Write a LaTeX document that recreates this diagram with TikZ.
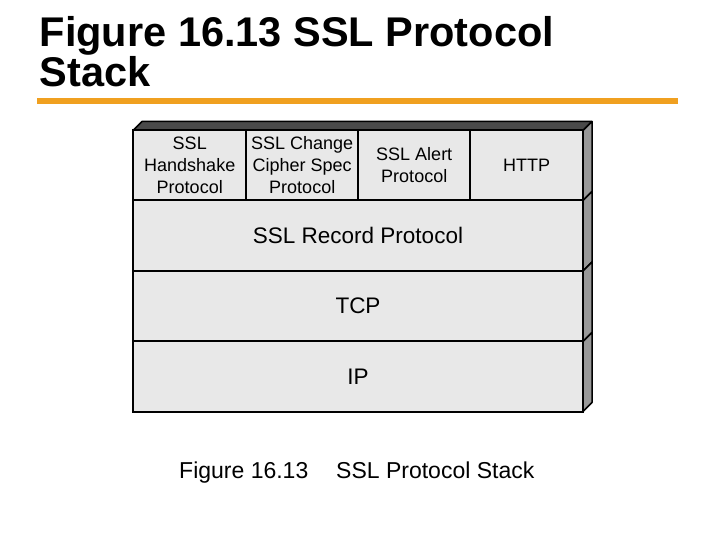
\documentclass[tikz,border=0pt]{standalone}
\usepackage{fontspec}
\setmainfont{Liberation Sans}
\definecolor{cellgray}{HTML}{E8E8E8}
\definecolor{sidegray}{HTML}{989898}
\definecolor{topgray}{HTML}{4A4A4A}
\definecolor{barorange}{HTML}{F0A020}
\tikzset{
  cell/.style={draw=black, line width=2pt, fill=cellgray, inner sep=0pt, align=center,
    font=\fontsize{18}{22}\selectfont},
  bigcell/.style={cell, font=\fontsize{22.5}{26}\selectfont, minimum width=450pt, minimum height=70.5pt},
  side/.style={draw=black, line width=1.5pt, fill=sidegray, line join=round},
  topface/.style={draw=black, line width=1.5pt, fill=topgray, line join=round},
  titletext/.style={anchor=base west, inner sep=0pt, font=\fontsize{41.5}{44}\selectfont\bfseries},
  captext/.style={anchor=base west, inner sep=0pt, font=\fontsize{23}{27}\selectfont},
}
\begin{document}
\begin{tikzpicture}[x=1pt,y=-1pt]
\useasboundingbox[fill=white] (0,0) rectangle (720,540);
% title
\node[titletext] (t1) at (39.5,46.5) {Figure 16.13 SSL Protocol};
\node[titletext] (t2) at (39.5,86.5) {Stack};
\coordinate (barL) at (37,101);
\coordinate (barR) at (678,101);
\draw[barorange, line width=6pt] (barL) -- (barR);
% 3D faces
\draw[topface] (133,130.5) -- (142,121.5) -- (592,121.5) -- (583,130.5) -- cycle;
\foreach \ya/\yb in {130.5/200.5, 200.5/271, 271/341.5, 341.5/411.5}{
  \draw[side] (583,\ya) -- (592,\ya-9) -- (592,\yb-9) -- (583,\yb) -- cycle;
}
% top row
\node[cell, minimum width=113.5pt, minimum height=70pt] (hs) at (189.75,165.5) {SSL\\Handshake\\Protocol};
\node[cell, minimum width=112pt, minimum height=70pt] (ccs) at (302.25,165.5) {SSL Change\\Cipher Spec\\Protocol};
\node[cell, minimum width=112pt, minimum height=70pt] (alert) at (414.25,165.5) {SSL Alert\\Protocol};
\node[cell, minimum width=113pt, minimum height=70pt] (http) at (526.5,165.5) {HTTP};
% lower rows
\node[bigcell] (rec) at (358,235.75) {SSL Record Protocol};
\node[bigcell] (tcp) at (358,306.25) {TCP};
\node[bigcell] (ip) at (358,376.5) {IP};
% caption
\node[captext] (cap1) at (179,478.5) {Figure 16.13};
\node[captext] (cap2) at (336,478.5) {SSL Protocol Stack};
\end{tikzpicture}
\end{document}
